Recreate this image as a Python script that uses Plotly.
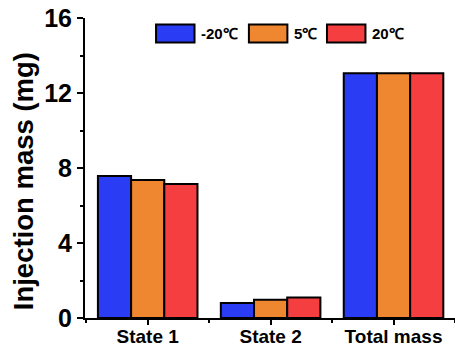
import plotly.graph_objects as go

categories = ["State 1", "State 2", "Total mass"]
series_names = ["-20℃", "5℃", "20℃"]
values_m20 = [7.57, 0.80, 13.05]
values_5 = [7.36, 0.97, 13.05]
values_20 = [7.15, 1.10, 13.05]
colors = ["#2A3CF4", "#EE872F", "#F43E3F"]
y_ticks = [0, 4, 8, 12, 16]

font_family = "Liberation Sans, Arial, sans-serif"

fig = go.Figure()
for name, vals, col in zip(series_names, [values_m20, values_5, values_20], colors):
    fig.add_trace(go.Bar(
        x=list(range(len(categories))), y=vals, name=name,
        marker=dict(color=col, line=dict(color="black", width=2)),
        showlegend=False,
    ))

# custom legend: wide swatches with labels along the top
legend_x = [0.192, 0.443, 0.654]
swatch_w = 0.104
for lx, name, col in zip(legend_x, series_names, colors):
    fig.add_shape(type="rect", xref="paper", yref="paper",
                  x0=lx, x1=lx + swatch_w, y0=0.978, y1=0.918,
                  fillcolor=col, line=dict(color="black", width=2))
    fig.add_annotation(xref="paper", yref="paper", x=lx + swatch_w + 0.012, y=0.948,
                       text=name, showarrow=False,
                       xanchor="left", yanchor="middle",
                       font=dict(family=font_family, size=15, color="black", weight="bold"))

# y-axis title as a rotated annotation for precise placement
fig.add_annotation(xref="paper", yref="paper", x=-0.164, y=0.457,
                   text="Injection mass (mg)", textangle=-90, showarrow=False,
                   xanchor="center", yanchor="middle",
                   font=dict(family=font_family, size=27.5, color="black", weight="bold"))

fig.update_layout(
    width=455, height=347,
    margin=dict(l=85, r=0, t=18, b=29),
    paper_bgcolor="white", plot_bgcolor="white",
    barmode="group", bargap=0.19, bargroupgap=0,
    font=dict(family=font_family, color="black"),
)
fig.update_xaxes(
    range=[-0.51, 2.5], tickvals=list(range(len(categories))),
    ticktext=categories, automargin=False, ticklabelstandoff=-5,
    tickfont=dict(size=19, weight="bold"), showline=True, linecolor="black", linewidth=2,
    ticks="outside", ticklen=5, tickwidth=2, tickcolor="black",
    minor=dict(tickvals=[-0.5, 0.5, 1.5, 2.5], ticks="outside", ticklen=3, tickwidth=2, tickcolor="black"),
    showgrid=False, zeroline=False,
)
fig.update_yaxes(
    range=[0, 16], tickvals=y_ticks, ticktext=[str(t) for t in y_ticks],
    automargin=False,
    tickfont=dict(size=25, weight="bold"), showline=True, linecolor="black", linewidth=2,
    ticks="outside", ticklen=6, tickwidth=2, tickcolor="black",
    minor=dict(tickvals=[2, 6, 10, 14], ticks="outside", ticklen=3, tickwidth=2, tickcolor="black"),
    showgrid=False, zeroline=False,
)

fig.write_html("out.html")
